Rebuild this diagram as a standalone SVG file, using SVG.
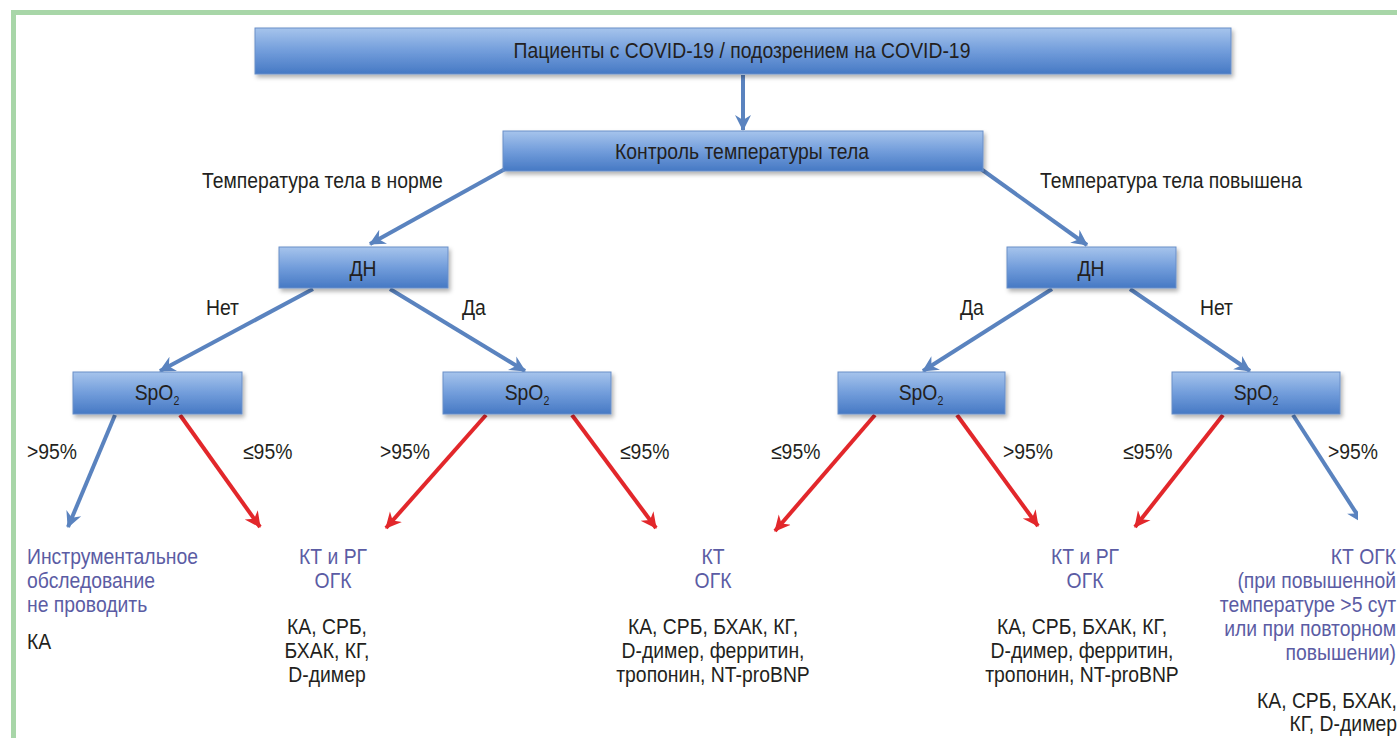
<svg xmlns="http://www.w3.org/2000/svg" width="1397" height="738" viewBox="0 0 1397 738">
<defs>
<linearGradient id="bg" x1="0" y1="0" x2="0" y2="1">
<stop offset="0" stop-color="#a6c4ec"/>
<stop offset="0.5" stop-color="#729ddb"/>
<stop offset="1" stop-color="#4679c4"/>
</linearGradient>
<filter id="sh" x="-5%" y="-20%" width="115%" height="160%">
<feDropShadow dx="2" dy="3" stdDeviation="2" flood-color="#000" flood-opacity="0.3"/>
</filter>
<marker id="ab" markerUnits="userSpaceOnUse" markerWidth="18" markerHeight="18" viewBox="0 0 18 18" refX="15" refY="9" orient="auto">
<path d="M0,1 L16,9 L0,17 L5,9 z" fill="#5a83bf"/>
</marker>
<marker id="ar" markerUnits="userSpaceOnUse" markerWidth="18" markerHeight="18" viewBox="0 0 18 18" refX="15" refY="9" orient="auto">
<path d="M0,1 L16,9 L0,17 L5,9 z" fill="#e2272b"/>
</marker>
<clipPath id="cr"><rect x="0" y="0" width="1358" height="738"/></clipPath>
</defs>
<style>
.box{fill:url(#bg);stroke:#6a8fc8;stroke-width:1;filter:url(#sh)}
.t{font-family:"Liberation Sans",Arial,sans-serif;font-size:22px;fill:#231f20}
.p{font-family:"Liberation Sans",Arial,sans-serif;font-size:22px;fill:#5b5ca4}
.c{text-anchor:middle}
.e{text-anchor:end}
.lb{stroke:#5a83bf;stroke-width:4;fill:none;marker-end:url(#ab)}
.lr{stroke:#e2272b;stroke-width:4;fill:none;marker-end:url(#ar)}
</style>
<rect x="0" y="0" width="1397" height="738" fill="#ffffff"/>
<rect x="13.5" y="12.5" width="1420" height="760" fill="none" stroke="#a8d6a8" stroke-width="5"/>

<g id="connectors">
<line class="lb" x1="743" y1="75" x2="743" y2="130"/>
<line class="lb" x1="505" y1="169" x2="370" y2="244"/>
<line class="lb" x1="981" y1="169" x2="1087" y2="245"/>
<line class="lb" x1="313" y1="289" x2="160" y2="371"/>
<line class="lb" x1="390" y1="289" x2="525" y2="371"/>
<line class="lb" x1="1052" y1="289" x2="923" y2="371"/>
<line class="lb" x1="1130" y1="289" x2="1250" y2="371"/>
<line class="lb" x1="115" y1="415" x2="68" y2="527"/>
<line class="lr" x1="180" y1="415" x2="260" y2="527"/>
<line class="lr" x1="486" y1="415" x2="386" y2="528"/>
<line class="lr" x1="572" y1="415" x2="656" y2="528"/>
<line class="lr" x1="875" y1="415" x2="775" y2="531"/>
<line class="lr" x1="957" y1="415" x2="1038" y2="526"/>
<line class="lr" x1="1223" y1="415" x2="1135" y2="527"/>
<g clip-path="url(#cr)"><line class="lb" x1="1293" y1="415" x2="1362" y2="522"/></g>
</g>

<g id="n-patients">
<rect class="box" x="255" y="28" width="976" height="46"/>
<text class="t c" transform="translate(742,58) scale(0.88,1)">Пациенты с COVID-19 / подозрением на COVID-19</text>
</g>
<g id="n-control">
<rect class="box" x="503" y="131" width="480" height="40"/>
<text class="t c" transform="translate(742,159) scale(0.88,1)">Контроль температуры тела</text>
</g>
<g id="lbl-norm"><text class="t" transform="translate(202,188) scale(0.88,1)">Температура тела в норме</text></g>
<g id="lbl-high"><text class="t" transform="translate(1040,188) scale(0.88,1)">Температура тела повышена</text></g>

<g id="n-dn-left">
<rect class="box" x="279" y="247" width="169" height="41"/>
<text class="t c" transform="translate(363,276) scale(0.88,1)">ДН</text>
</g>
<g id="n-dn-right">
<rect class="box" x="1007" y="247" width="169" height="41"/>
<text class="t c" transform="translate(1091,276) scale(0.88,1)">ДН</text>
</g>
<g id="lbl-dn">
<text class="t" transform="translate(206,315) scale(0.88,1)">Нет</text>
<text class="t" transform="translate(462,315) scale(0.88,1)">Да</text>
<text class="t" transform="translate(960,315) scale(0.88,1)">Да</text>
<text class="t" transform="translate(1200,315) scale(0.88,1)">Нет</text>
</g>

<g id="n-spo2-1">
<rect class="box" x="73" y="372" width="169" height="42"/>
<text class="t c" transform="translate(157,400) scale(0.88,1)">SpO<tspan font-size="12" dy="5">2</tspan></text>
</g>
<g id="n-spo2-2">
<rect class="box" x="443" y="372" width="168" height="42"/>
<text class="t c" transform="translate(527,400) scale(0.88,1)">SpO<tspan font-size="12" dy="5">2</tspan></text>
</g>
<g id="n-spo2-3">
<rect class="box" x="838" y="372" width="167" height="42"/>
<text class="t c" transform="translate(921,400) scale(0.88,1)">SpO<tspan font-size="12" dy="5">2</tspan></text>
</g>
<g id="n-spo2-4">
<rect class="box" x="1172" y="372" width="168" height="42"/>
<text class="t c" transform="translate(1256,400) scale(0.88,1)">SpO<tspan font-size="12" dy="5">2</tspan></text>
</g>

<g id="lbl-pct">
<text class="t" transform="translate(27,459) scale(0.88,1)">&gt;95%</text>
<text class="t" transform="translate(243,459) scale(0.88,1)">≤95%</text>
<text class="t" transform="translate(380,459) scale(0.88,1)">&gt;95%</text>
<text class="t" transform="translate(620,459) scale(0.88,1)">≤95%</text>
<text class="t" transform="translate(771,459) scale(0.88,1)">≤95%</text>
<text class="t" transform="translate(1003,459) scale(0.88,1)">&gt;95%</text>
<text class="t" transform="translate(1123,459) scale(0.88,1)">≤95%</text>
<text class="t" transform="translate(1328,459) scale(0.88,1)">&gt;95%</text>
</g>

<g id="out-1">
<text class="p" transform="translate(27,564) scale(0.88,1)"><tspan x="0" y="0">Инструментальное</tspan><tspan x="0" y="24">обследование</tspan><tspan x="0" y="48">не проводить</tspan></text>
<text class="t" transform="translate(27,649) scale(0.88,1)">КА</text>
</g>
<g id="out-2">
<text class="p c" transform="translate(333,564) scale(0.88,1)"><tspan x="0" y="0">КТ и РГ</tspan><tspan x="0" y="24">ОГК</tspan></text>
<text class="t c" transform="translate(327,634) scale(0.88,1)"><tspan x="0" y="0">КА, СРБ,</tspan><tspan x="0" y="24">БХАК, КГ,</tspan><tspan x="0" y="48">D-димер</tspan></text>
</g>
<g id="out-3">
<text class="p c" transform="translate(713,564) scale(0.88,1)"><tspan x="0" y="0">КТ</tspan><tspan x="0" y="24">ОГК</tspan></text>
<text class="t c" transform="translate(713,634) scale(0.88,1)"><tspan x="0" y="0">КА, СРБ, БХАК, КГ,</tspan><tspan x="0" y="24">D-димер, ферритин,</tspan><tspan x="0" y="48">тропонин, NT-proBNP</tspan></text>
</g>
<g id="out-4">
<text class="p c" transform="translate(1085,564) scale(0.88,1)"><tspan x="0" y="0">КТ и РГ</tspan><tspan x="0" y="24">ОГК</tspan></text>
<text class="t c" transform="translate(1082,634) scale(0.88,1)"><tspan x="0" y="0">КА, СРБ, БХАК, КГ,</tspan><tspan x="0" y="24">D-димер, ферритин,</tspan><tspan x="0" y="48">тропонин, NT-proBNP</tspan></text>
</g>
<g id="out-5">
<text class="p e" transform="translate(1396,564) scale(0.88,1)"><tspan x="0" y="0">КТ ОГК</tspan><tspan x="0" y="24">(при повышенной</tspan><tspan x="0" y="48">температуре &gt;5 сут</tspan><tspan x="0" y="72">или при повторном</tspan><tspan x="0" y="96">повышении)</tspan></text>
<text class="t e" transform="translate(1397,708) scale(0.88,1)"><tspan x="0" y="0">КА, СРБ, БХАК,</tspan><tspan x="0" y="23">КГ, D-димер</tspan></text>
</g>
</svg>
